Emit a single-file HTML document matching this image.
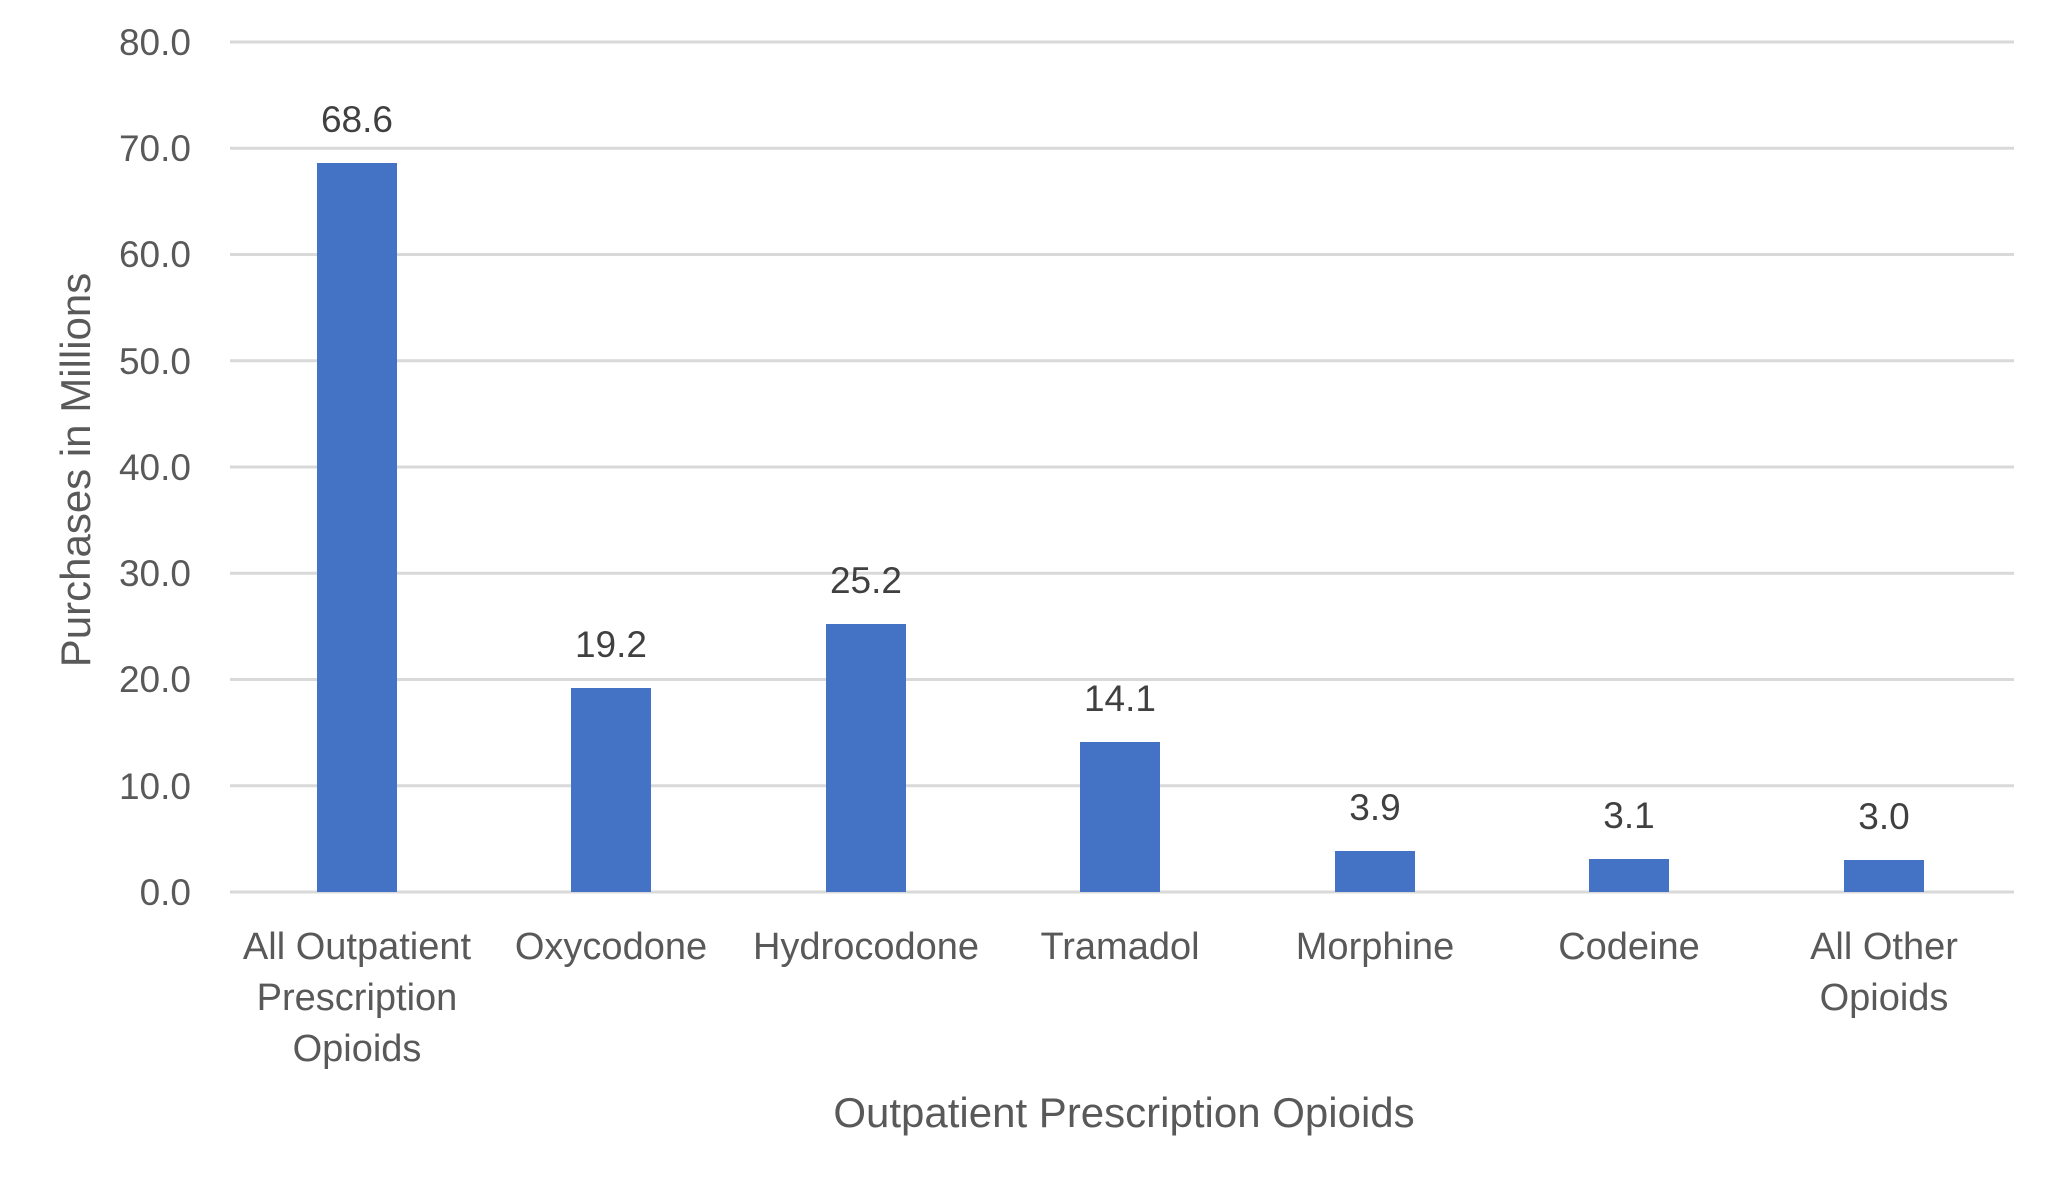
<!DOCTYPE html>
<html><head><meta charset="utf-8"><style>
html,body{margin:0;padding:0;background:#fff;}
</style></head><body>
<svg width="2054" height="1193" xmlns="http://www.w3.org/2000/svg" font-family="Liberation Sans, sans-serif">
<rect width="2054" height="1193" fill="#fff"/>
<g stroke="#D9D9D9" stroke-width="3">
<line x1="230" x2="2014" y1="42" y2="42"/>
<line x1="230" x2="2014" y1="148.25" y2="148.25"/>
<line x1="230" x2="2014" y1="254.5" y2="254.5"/>
<line x1="230" x2="2014" y1="360.75" y2="360.75"/>
<line x1="230" x2="2014" y1="467" y2="467"/>
<line x1="230" x2="2014" y1="573.25" y2="573.25"/>
<line x1="230" x2="2014" y1="679.5" y2="679.5"/>
<line x1="230" x2="2014" y1="785.75" y2="785.75"/>
<line x1="230" x2="2014" y1="892" y2="892"/>
</g>
<g fill="#595959" font-size="37" text-anchor="end">
<text x="191" y="55">80.0</text>
<text x="191" y="161">70.0</text>
<text x="191" y="267">60.0</text>
<text x="191" y="374">50.0</text>
<text x="191" y="480">40.0</text>
<text x="191" y="586">30.0</text>
<text x="191" y="692">20.0</text>
<text x="191" y="799">10.0</text>
<text x="191" y="905">0.0</text>
</g>
<g fill="#4472C4">
<rect x="317" y="163" width="80" height="729"/>
<rect x="571" y="688" width="80" height="204"/>
<rect x="826" y="624" width="80" height="268"/>
<rect x="1080" y="742" width="80" height="150"/>
<rect x="1335" y="851" width="80" height="41"/>
<rect x="1589" y="859" width="80" height="33"/>
<rect x="1844" y="860" width="80" height="32"/>
</g>
<g fill="#404040" font-size="37" text-anchor="middle">
<text x="357" y="132">68.6</text>
<text x="611" y="657">19.2</text>
<text x="866" y="593">25.2</text>
<text x="1120" y="711">14.1</text>
<text x="1375" y="820">3.9</text>
<text x="1629" y="828">3.1</text>
<text x="1884" y="829">3.0</text>
</g>
<g fill="#595959" font-size="38" text-anchor="middle">
<text x="357" y="959">All Outpatient</text>
<text x="357" y="1010">Prescription</text>
<text x="357" y="1061">Opioids</text>
<text x="611" y="959">Oxycodone</text>
<text x="866" y="959">Hydrocodone</text>
<text x="1120" y="959">Tramadol</text>
<text x="1375" y="959">Morphine</text>
<text x="1629" y="959">Codeine</text>
<text x="1884" y="959">All Other</text>
<text x="1884" y="1010">Opioids</text>
<text x="1124" y="1127" font-size="42">Outpatient Prescription Opioids</text>
<text transform="translate(90,470) rotate(-90)" font-size="42">Purchases in Millions</text>
</g>
</svg>
</body></html>
